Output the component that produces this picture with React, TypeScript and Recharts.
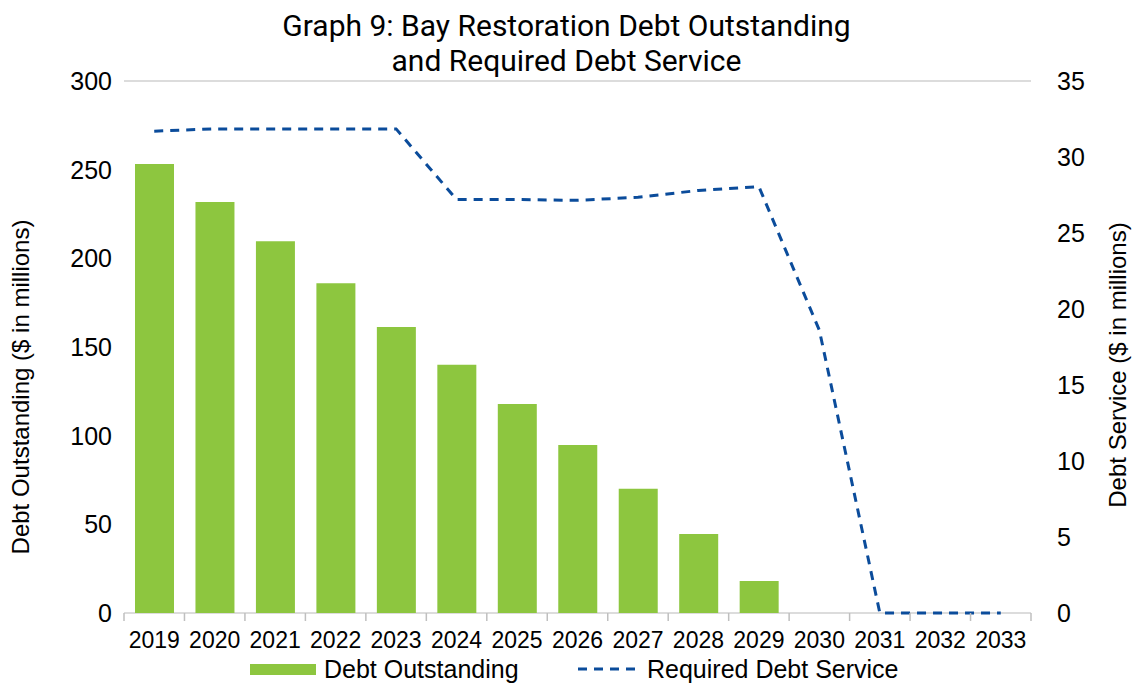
import { ComposedChart, Bar, Line, XAxis, YAxis, CartesianGrid } from 'recharts';

const years = ['2019', '2020', '2021', '2022', '2023', '2024', '2025', '2026', '2027', '2028', '2029', '2030', '2031', '2032', '2033'];
const debtOutstanding = [253.2, 231.8, 209.6, 186.0, 161.3, 140.0, 117.9, 94.8, 70.0, 44.6, 18.0, 0, 0, 0, 0];
const debtService = [31.7, 31.85, 31.85, 31.85, 31.85, 27.2, 27.2, 27.15, 27.35, 27.8, 28.05, 18.6, 0, 0, 0];
const leftTicks = [0, 50, 100, 150, 200, 250, 300];
const rightTicks = [0, 5, 10, 15, 20, 25, 30, 35];

const FONT = '"Liberation Sans", Arial, sans-serif';
const GREEN = '#8DC63F';
const BLUE = '#0B4C9B';

const data = years.map((year, i) => ({
  year,
  outstanding: debtOutstanding[i],
  service: debtService[i],
}));

// Excel-style category axis: tick marks sit between categories
function YearTick(props: any) {
  const { x, y, payload, index } = props;
  const half = payload?.offset ?? 30;
  return (
    <g>
      <line x1={x - half} y1={y - 8} x2={x - half} y2={y} stroke="#BFBFBF" strokeWidth={1.5} />
      {index === years.length - 1 && (
        <line x1={x + half} y1={y - 8} x2={x + half} y2={y} stroke="#BFBFBF" strokeWidth={1.5} />
      )}
      <text x={x} y={y + 27} textAnchor="middle" fontSize={23} fill="#000" fontFamily={FONT}>
        {payload.value}
      </text>
    </g>
  );
}

export default function App() {
  return (
    <div style={{ position: 'absolute', left: 0, top: 0, width: 1133, height: 685, background: '#fff', fontFamily: FONT, overflow: 'hidden' }}>
      <div style={{ position: 'absolute', top: 8, left: 0, width: 1133, textAlign: 'center', fontSize: 30, fontWeight: 400, lineHeight: '35px', color: '#000', fontFamily: 'Roboto, sans-serif' }}>
        Graph 9: Bay Restoration Debt Outstanding
        <br />
        and Required Debt Service
      </div>

      <ComposedChart width={1133} height={685} data={data} margin={{ top: 81, right: 0, bottom: 0, left: 0 }} barSize={39}>
        <CartesianGrid vertical={false} stroke="#D0D0D0" strokeWidth={1.5} />
        <XAxis
          dataKey="year"
          height={72}
          axisLine={false}
          tickLine={false}
          tick={<YearTick />}
          interval={0}
        />
        <YAxis
          yAxisId="left"
          width={124}
          domain={[0, 300]}
          ticks={leftTicks}
          axisLine={false}
          tickLine={false}
          tickMargin={6}
          tick={{ fontSize: 25, fill: '#000', fontFamily: FONT }}
          label={{ value: 'Debt Outstanding ($ in millions)', angle: -90, position: 'insideLeft', offset: 20, dy: 40, style: { fontSize: 24, fill: '#000', fontFamily: FONT, textAnchor: 'middle' } }}
        />
        <YAxis
          yAxisId="right"
          orientation="right"
          width={102}
          domain={[0, 35]}
          ticks={rightTicks}
          axisLine={false}
          tickLine={false}
          tickMargin={20}
          tick={{ fontSize: 25, fill: '#000', fontFamily: FONT }}
          label={{ value: 'Debt Service ($ in millions)', angle: -90, position: 'insideRight', offset: 16, dy: 18, style: { fontSize: 24, fill: '#000', fontFamily: FONT, textAnchor: 'middle' } }}
        />
        <Bar yAxisId="left" dataKey="outstanding" fill={GREEN} isAnimationActive={false} />
        <Line
          yAxisId="right"
          dataKey="service"
          type="linear"
          stroke={BLUE}
          strokeWidth={3}
          strokeDasharray="9 7"
          dot={false}
          activeDot={false}
          isAnimationActive={false}
        />
      </ComposedChart>

      <span style={{ position: 'absolute', top: 664, left: 250, width: 66, height: 11, background: GREEN }} />
      <span style={{ position: 'absolute', top: 657, left: 324, fontSize: 25, lineHeight: '25px', color: '#000', whiteSpace: 'nowrap' }}>Debt Outstanding</span>
      <svg width={58} height={10} style={{ position: 'absolute', top: 664, left: 578 }}>
        <line x1={0} y1={5} x2={58} y2={5} stroke={BLUE} strokeWidth={3} strokeDasharray="9 7" />
      </svg>
      <span style={{ position: 'absolute', top: 657, left: 647, fontSize: 25, lineHeight: '25px', color: '#000', whiteSpace: 'nowrap' }}>Required Debt Service</span>
    </div>
  );
}
